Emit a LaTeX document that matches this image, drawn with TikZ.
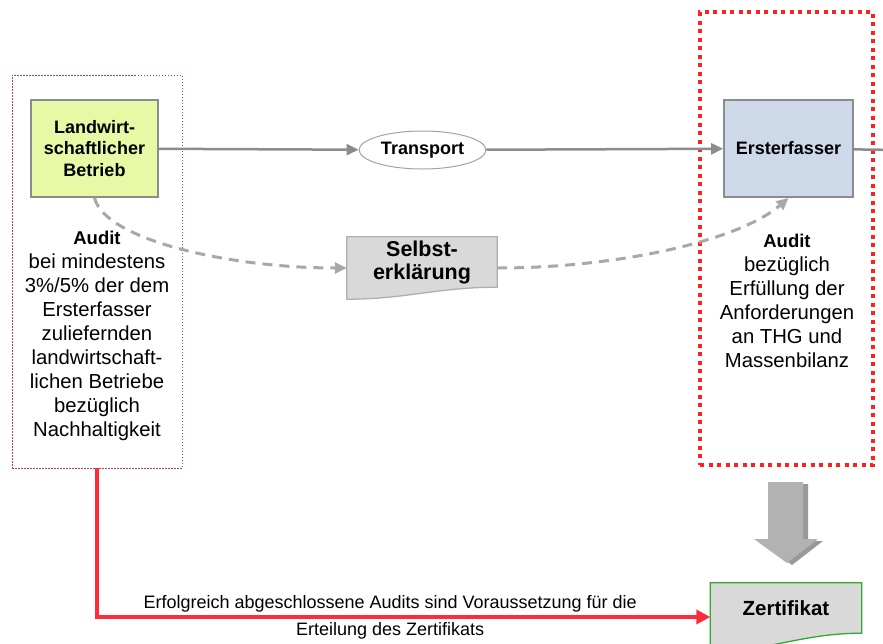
\documentclass[tikz,border=0pt]{standalone}
\usepackage{fontspec}
\setmainfont{Liberation Sans}
\usetikzlibrary{shapes.geometric,arrows.meta,calc,backgrounds}

\definecolor{lwgreen}{HTML}{E8F9A6}
\definecolor{efblue}{HTML}{CDD9E9}
\definecolor{docgray}{HTML}{D9D9D9}
\definecolor{lngray}{HTML}{8C8C8C}
\definecolor{dgray}{HTML}{A8A8A8}
\definecolor{auditred}{HTML}{FF2A3A}
\definecolor{boxred}{HTML}{FF2020}
\definecolor{dotred}{HTML}{B04848}
\definecolor{zgreen}{HTML}{2EAA2E}

\newcommand{\docbox}[4]{%
  \begin{scope}[on background layer]
    \filldraw[fill=#2,draw=#3,line width=1.3pt] (#1.north west) -- (#1.north east) -- (#1.south east)
      .. controls +(-60,0) and +(60,0) .. ($(#1.south west)+(0,#4)$) -- cycle;
  \end{scope}}

\begin{document}
\begin{tikzpicture}[
  x=1pt,y=-1pt,
  box/.style={rectangle,draw=lngray,line width=1.8pt,minimum width=127pt,minimum height=97pt,
    align=center,font=\fontsize{18}{21.5}\selectfont\bfseries},
  doc/.style={rectangle,minimum width=150pt,minimum height=50pt,align=center},
  txt/.style={align=center,font=\fontsize{20.3}{24}\selectfont},
  ln/.style={draw=lngray,line width=2.5pt,-{Triangle[length=12pt,width=11pt]}},
  dl/.style={draw=dgray,line width=3pt,dash pattern=on 10pt off 7pt,-{Triangle[length=12pt,width=11pt]}}
]
  \useasboundingbox (0,0) rectangle (883,643);

  \node[rectangle,draw=dotred,line width=0.9pt,dash pattern=on 1.5pt off 1.5pt,
    minimum width=170pt,minimum height=393pt] (ab) at (97,271.5) {};
  \node[rectangle,draw=boxred,line width=4pt,dash pattern=on 4pt off 4.5pt,
    minimum width=173pt,minimum height=453pt] (rb) at (786.5,238.5) {};

  \node[box,fill=lwgreen] (lw) at (94.5,148.5) {Landwirt-\\schaftlicher\\Betrieb};
  \node[ellipse,draw=lngray!80,line width=1pt,fill=white,minimum width=121pt,minimum height=38pt,
    font=\fontsize{18}{21.5}\selectfont\bfseries] (tr) at (422.5,150) {Transport};
  \node[box,fill=efblue,minimum width=129pt] (ef) at (788.5,148.5) {Ersterfasser};
  \coordinate (out) at (900,150);

  \node[doc,font=\fontsize{21.5}{23}\selectfont\bfseries] (se) at (422,262) {Selbst-\\erklärung};
  \docbox{se}{docgray}{lngray!70}{12}
  \node[doc,minimum width=151pt,font=\fontsize{20.5}{24}\selectfont\bfseries] (zt) at (786,608) {Zertifikat};
  \docbox{zt}{docgray}{zgreen}{18}

  \node[txt] (al) at (97,336) {{\fontsize{18.5}{24}\selectfont\bfseries Audit}\\bei mindestens\\3\%/5\% der dem\\
    Ersterfasser\\zuliefernden\\landwirtschaft-\\lichen Betriebe\\bezüglich\\Nachhaltigkeit};
  \node[txt] (ar) at (787,300.5) {{\fontsize{18.5}{24}\selectfont\bfseries Audit}\\bezüglich\\Erfüllung der\\
    Anforderungen\\an THG und\\Massenbilanz};

  \draw[ln] (lw) -- (tr);
  \draw[ln] (tr) -- (ef);
  \draw[ln] (ef) -- (out);
  \draw[dl] (lw.south) .. controls (105,240) and (230,268) .. ([yshift=-6pt]se.west);
  \draw[dl] ([yshift=-6pt]se.east) .. controls (620,268) and (740,240) .. (ef.south);

  \fill[gray!80] (773,484) -- (808,484) -- (808,541) -- (823,541) -- (792,565) -- (759,541) -- (773,541) -- cycle;
  \fill[gray!60] (768,482) -- (803,482) -- (803,539) -- (818,539) -- (787,563) -- (754,539) -- (768,539) -- cycle;

  \draw[auditred,line width=4.5pt,-{Triangle[length=14pt,width=14pt]}] (ab.south) |- ([yshift=-9pt]zt.west)
    node[pos=0.739,text=black,font=\fontsize{18}{27}\selectfont,align=center] {Erfolgreich abgeschlossene Audits sind Voraussetzung für die\\Erteilung des Zertifikats};
\end{tikzpicture}
\end{document}
